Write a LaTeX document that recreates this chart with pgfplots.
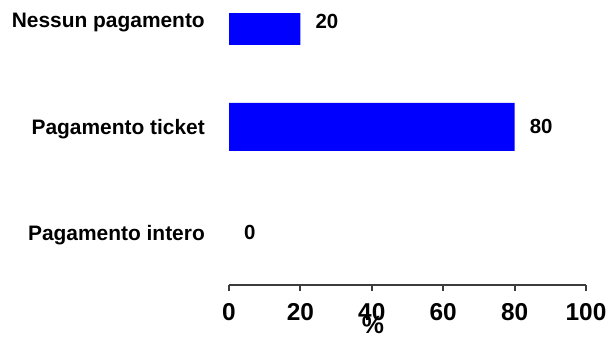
\documentclass[border=0pt]{standalone}
\usepackage{fontspec}
\setmainfont{Liberation Sans}
\usepackage{pgfplots}
\pgfplotsset{compat=1.18}
\definecolor{barblue}{HTML}{0000FF}
\definecolor{axgray}{HTML}{3C3C3C}
\begin{document}
\begin{tikzpicture}[x=1bp,y=1bp]
\useasboundingbox (0,0) rectangle (610,341);
\begin{axis}[
  at={(229bp,56bp)}, anchor=south west,
  scale only axis, width=357bp, height=271bp,
  xbar, xmin=0, xmax=100, ymin=-0.493, ymax=2.066,
  ytick={0,1,2},
  yticklabels={Pagamento intero, Pagamento ticket, Nessun pagamento},
  xtick={0,20,40,60,80,100},
  axis x line*=bottom, axis y line*=left,
  y axis line style={draw=none},
  ytick style={draw=none},
  x axis line style={draw=axgray, line width=2bp, -},
  xtick style={draw=axgray, line width=2bp},
  tick align=outside, major tick length=6bp,
  /pgf/number format/assume math mode=true,
  xticklabel style={font=\fontsize{24.5}{24.5}\selectfont\bfseries, anchor=north, inner sep=0pt, yshift=-12bp},
  yticklabel style={font=\fontsize{21}{21}\selectfont\bfseries, anchor=east, inner sep=0pt, xshift=-18bp, yshift=-2bp},
  xlabel={\%},
  xlabel style={at={(axis description cs:0.403,0)}, anchor=north, inner sep=0pt, yshift=-31bp, font=\fontsize{25}{25}\selectfont\bfseries},
  bar width=48bp,
  nodes near coords,
  nodes near coords style={anchor=west, inner sep=0pt, xshift=15bp, font=\fontsize{20.5}{20.5}\selectfont\bfseries, text=black},
]
\addplot[fill=barblue, draw=none, bar shift=0pt] coordinates {(80,1) (20,2)};
\addplot[fill=none, draw=none, bar shift=0pt] coordinates {(0,0)};
\end{axis}
\end{tikzpicture}
\end{document}
